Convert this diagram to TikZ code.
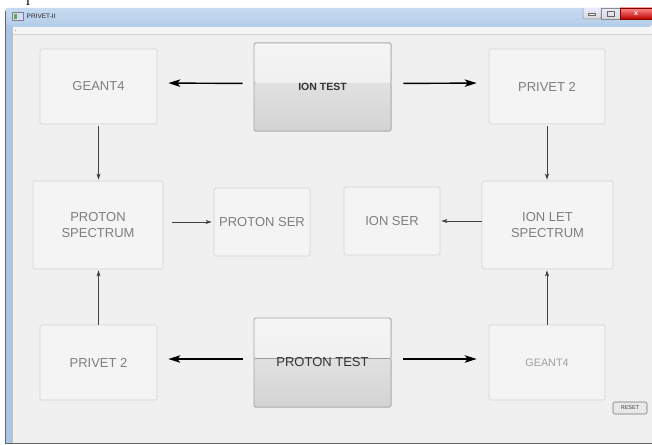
\documentclass[tikz,border=0pt]{standalone}
\usepackage{fontspec}
\setmainfont{Liberation Sans}
\newfontfamily\serifI{Liberation Serif}
\usetikzlibrary{arrows.meta}

\definecolor{winbg}{HTML}{F0F0F0}
\definecolor{stripbg}{HTML}{F5F5F5}
\definecolor{titletop}{HTML}{C6DBF0}
\definecolor{titlebot}{HTML}{B3CCE8}
\definecolor{frameblue}{HTML}{AAC6E6}
\definecolor{panelfill}{HTML}{F4F4F4}
\definecolor{panelline}{HTML}{D2D2D2}
\definecolor{paneltext}{HTML}{7E7E7E}
\definecolor{btnline}{HTML}{A4A4A4}
\definecolor{arrgray}{HTML}{404040}

\begin{document}
\begin{tikzpicture}[x=1pt,y=1pt,yscale=-1,
    panel/.style={draw=panelline, fill=panelfill, rounded corners=1.5, line width=0.7,
        inner sep=0pt, align=center, text=paneltext, font=\fontsize{13}{16}\selectfont},
    testbtn/.style={draw=btnline, rounded corners=1.5, line width=0.8, inner sep=0pt,
        text=black!80, font=\fontsize{13}{16}\selectfont,
        path picture={
            \fill[top color=white!96!black, bottom color=white!92!black]
                (path picture bounding box.north west) rectangle ([yshift=4]path picture bounding box.east);
            \fill[top color=white!88!black, bottom color=white!83!black]
                ([yshift=4]path picture bounding box.west) rectangle (path picture bounding box.south east);
        }},
    bigarr/.style={-{Stealth[length=12,width=7.5,inset=3]}, line width=1.4},
    smallarr/.style={-{Stealth[length=6,width=4,inset=1.5]}, line width=0.9, draw=arrgray, color=arrgray},
    winbtn/.style={draw=black!45, line width=0.5, top color=white!92!blue, bottom color=black!15}
]
    \useasboundingbox (0,0) rectangle (652,444);
    \fill[white] (0,0) rectangle (652,444);

    %Shape: Window frame
    \shade[top color=titletop, bottom color=titlebot, rounded corners=3] (5,8) -- (652,8) -- (652,27) -- (5,27) -- cycle;
    \fill[frameblue] (5,25) rectangle (12,443);
    \fill[stripbg] (12,27) rectangle (652,35);
    \draw[black!18, line width=0.6] (12,34.5) -- (652,34.5);
    \fill[winbg] (12,35) rectangle (652,443);
    \draw[black!60, line width=0.8] (5.5,11) -- (5.5,443.4) -- (652,443.4);
    \draw[black!25, line width=0.5] (12,27) -- (12,443);
    \draw[black!40, line width=0.3] (15,30.5) -- (16,30.5);

    %Shape: title icon and window buttons
    \draw[black!50, fill=white!85!blue, line width=0.4] (12.5,12.5) rectangle (23.5,20.5);
    \fill[green!40!black!60] (13.5,14) rectangle (17,19.5);
    \draw[winbtn] (583,8) -- (583,17) [rounded corners=2] -- (583,19) -- (601,19) [sharp corners] -- (601,8);
    \draw[winbtn] (601,8) rectangle (620,19);
    \shade[top color=red!45!white, bottom color=red!75!black, draw=red!50!black, line width=0.5] (620,8) rectangle (652,19);
    \fill[white!95!black, draw=black!60, line width=0.3] (588.5,13.5) rectangle (595.5,15.5);
    \draw[black!60, line width=0.8] (607,11) rectangle (614,16);

    % Text Node
    \node[anchor=west, inner sep=0pt, font=\fontsize{6.5}{7}\selectfont, text=black!85] (wintitle) at (26.5,16.5) {PRIVET-II};
    \node[inner sep=0pt, font=\fontsize{7}{7}\bfseries, text=white] (closex) at (636,13.5) {x};
    \node[anchor=south, inner sep=0pt, font=\serifI\fontsize{13}{13}\selectfont] (topI) at (28,5.5) {I};

    %Shape: Panels
    \node[panel, minimum width=117, minimum height=75] (geantA) at (98.5,86.5) {GEANT4};
    \node[testbtn, minimum width=137, minimum height=88, font=\fontsize{10.5}{12}\bfseries] (iontest) at (322.5,87) {ION TEST};
    \node[panel, minimum width=116, minimum height=75] (privetA) at (547,86.5) {PRIVET 2};

    \node[panel, minimum width=130, minimum height=88] (protspec) at (98,225) {PROTON\\SPECTRUM};
    \node[panel, minimum width=96, minimum height=68] (protser) at (262,222) {PROTON SER};
    \node[panel, minimum width=96, minimum height=68] (ionser) at (392,221) {ION SER};
    \node[panel, minimum width=131, minimum height=88] (ionlet) at (547.5,225) {ION LET\\SPECTRUM};

    \node[panel, minimum width=117, minimum height=75] (privetB) at (98.5,362.5) {PRIVET 2};
    \node[testbtn, minimum width=137, minimum height=89] (protontest) at (322.5,362.5) {PROTON TEST};
    \node[panel, minimum width=116, minimum height=75, font=\fontsize{10.8}{13}\selectfont, text=paneltext!75] (geantB) at (547,362.5) {GEANT4};

    \node[draw=black!55, fill=white!91!black, rounded corners=1.5, line width=0.6, inner sep=0pt,
        minimum width=34, minimum height=12, font=\fontsize{5.5}{6}\selectfont, text=black!75] (reset) at (630,408) {RESET};

    %Connectors
    \draw[bigarr, shorten >=11, shorten <=11] ([yshift=-3.5]iontest.west) -- ([yshift=-3.5]geantA.east);
    \draw[bigarr, shorten >=12, shorten <=12] ([yshift=-3.5]iontest.east) -- ([yshift=-3.5]privetA.west);
    \draw[bigarr, shorten >=11, shorten <=11] ([yshift=-3.5]protontest.west) -- ([yshift=-3.5]privetB.east);
    \draw[bigarr, shorten >=12, shorten <=12] ([yshift=-3.5]protontest.east) -- ([yshift=-3.5]geantB.west);

    \draw[smallarr, shorten <=2, shorten >=1] (geantA.south) -- (geantA.south |- protspec.north);
    \draw[smallarr, shorten <=0, shorten >=1] (privetB.north) -- (privetB.north |- protspec.south);
    \draw[smallarr, shorten <=2, shorten >=1] (privetA.south) -- (privetA.south |- ionlet.north);
    \draw[smallarr, shorten <=0, shorten >=1] (geantB.north) -- (geantB.north |- ionlet.south);

    \draw[smallarr, shorten <=9, shorten >=2] (protspec.east |- protser.west) -- (protser.west);
    \draw[smallarr, shorten >=1] (ionlet.west |- ionser.east) -- (ionser.east);
\end{tikzpicture}
\end{document}
